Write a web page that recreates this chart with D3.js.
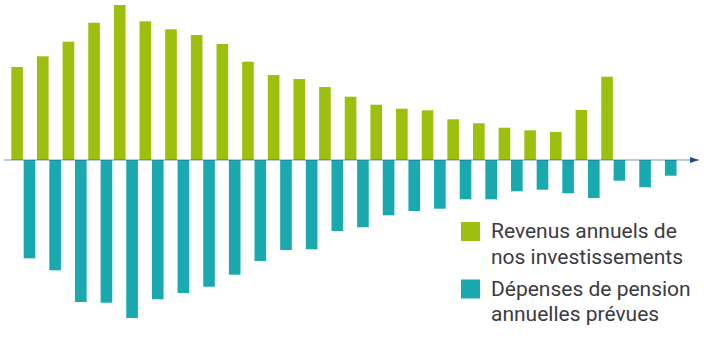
<!DOCTYPE html>
<html lang="fr">
<head>
  <meta charset="utf-8">
  <title>Revenus et dépenses de pension</title>
  <script src="https://cdn.jsdelivr.net/npm/d3@7"></script>
  <style>
    html, body { margin: 0; padding: 0; background: #fff; }
    svg { display: block; }
    .legend text { font-family: Roboto, "Noto Sans", sans-serif; fill: #3b3b3f; }
  </style>
</head>
<body>
<svg id="chart" width="707" height="339"></svg>

<script>
// data (arbitrary units)
var periods = d3.range(1, 27);
var revenus = [93, 103.7, 118.3, 137.3, 155, 138.7, 130.7, 125, 116, 98.3, 85, 81, 73, 63.3,
               55.3, 51.3, 49.7, 40.7, 36.7, 32.3, 29.7, 28, 50, 83.3];
var depenses = [98.3, 110.3, 142, 142.7, 158, 139.3, 133, 126.7, 114.7, 101, 90, 89.3, 71, 67.3,
                55.3, 51, 48.7, 39.3, 39.3, 31.3, 29.7, 33.3, 38, 20.7, 27.3, 15.7];
var series = ["revenus", "depenses"];
var legendLabels = [["Revenus annuels de", "nos investissements"],
                    ["Dépenses de pension", "annuelles prévues"]];

var colors = { revenus: "#9dc00f", depenses: "#1ba9b0" };

var svg = d3.select("#chart");

var x = d3.scaleBand()
    .domain(periods)
    .range([11.3, 11.3 + periods.length * 25.65])
    .padding(0);

var xSub = d3.scaleBand()
    .domain(series)
    .range([0, 24])
    .paddingInner(0.06);

var y = d3.scaleLinear()
    .domain([-160, 160])
    .range([320, 0]);

// green bars (up)
svg.append("g").selectAll("rect")
  .data(revenus)
  .join("rect")
    .attr("x", function(d, i) { return x(periods[i]) + xSub("revenus"); })
    .attr("y", function(d) { return y(d); })
    .attr("width", xSub.bandwidth())
    .attr("height", function(d) { return y(0) - y(d); })
    .attr("fill", colors.revenus);

// teal bars (down)
svg.append("g").selectAll("rect")
  .data(depenses)
  .join("rect")
    .attr("x", function(d, i) { return x(periods[i]) + xSub("depenses"); })
    .attr("y", y(0))
    .attr("width", xSub.bandwidth())
    .attr("height", function(d) { return y(-d) - y(0); })
    .attr("fill", colors.depenses);

// baseline with arrow
svg.append("line")
    .attr("x1", 4).attr("x2", 699)
    .attr("y1", y(0)).attr("y2", y(0))
    .attr("stroke", "#1d4f7c")
    .attr("stroke-opacity", 0.4)
    .attr("stroke-width", 1.5);

svg.append("path")
    .attr("d", "M690," + (y(0) - 3) + "L699," + y(0) + "L690," + (y(0) + 3) + "Z")
    .attr("fill", "#1d4f7c");

// legend
var legend = svg.append("g").attr("class", "legend");

var items = legend.selectAll("g")
  .data(series)
  .join("g")
    .attr("transform", function(d, i) { return "translate(461," + (222 + i * 57.5) + ")"; });

items.append("rect")
    .attr("width", 19).attr("height", 19)
    .attr("fill", function(d) { return colors[d]; });

items.append("text")
    .attr("x", 30)
    .attr("y", 16)
    .style("font-size", "21px")
    .selectAll("tspan")
    .data(function(d, i) { return legendLabels[i]; })
    .join("tspan")
      .attr("x", 30)
      .attr("dy", function(d, i) { return i === 0 ? 0 : 25.5; })
      .text(function(d) { return d; });
</script>
</body>
</html>
